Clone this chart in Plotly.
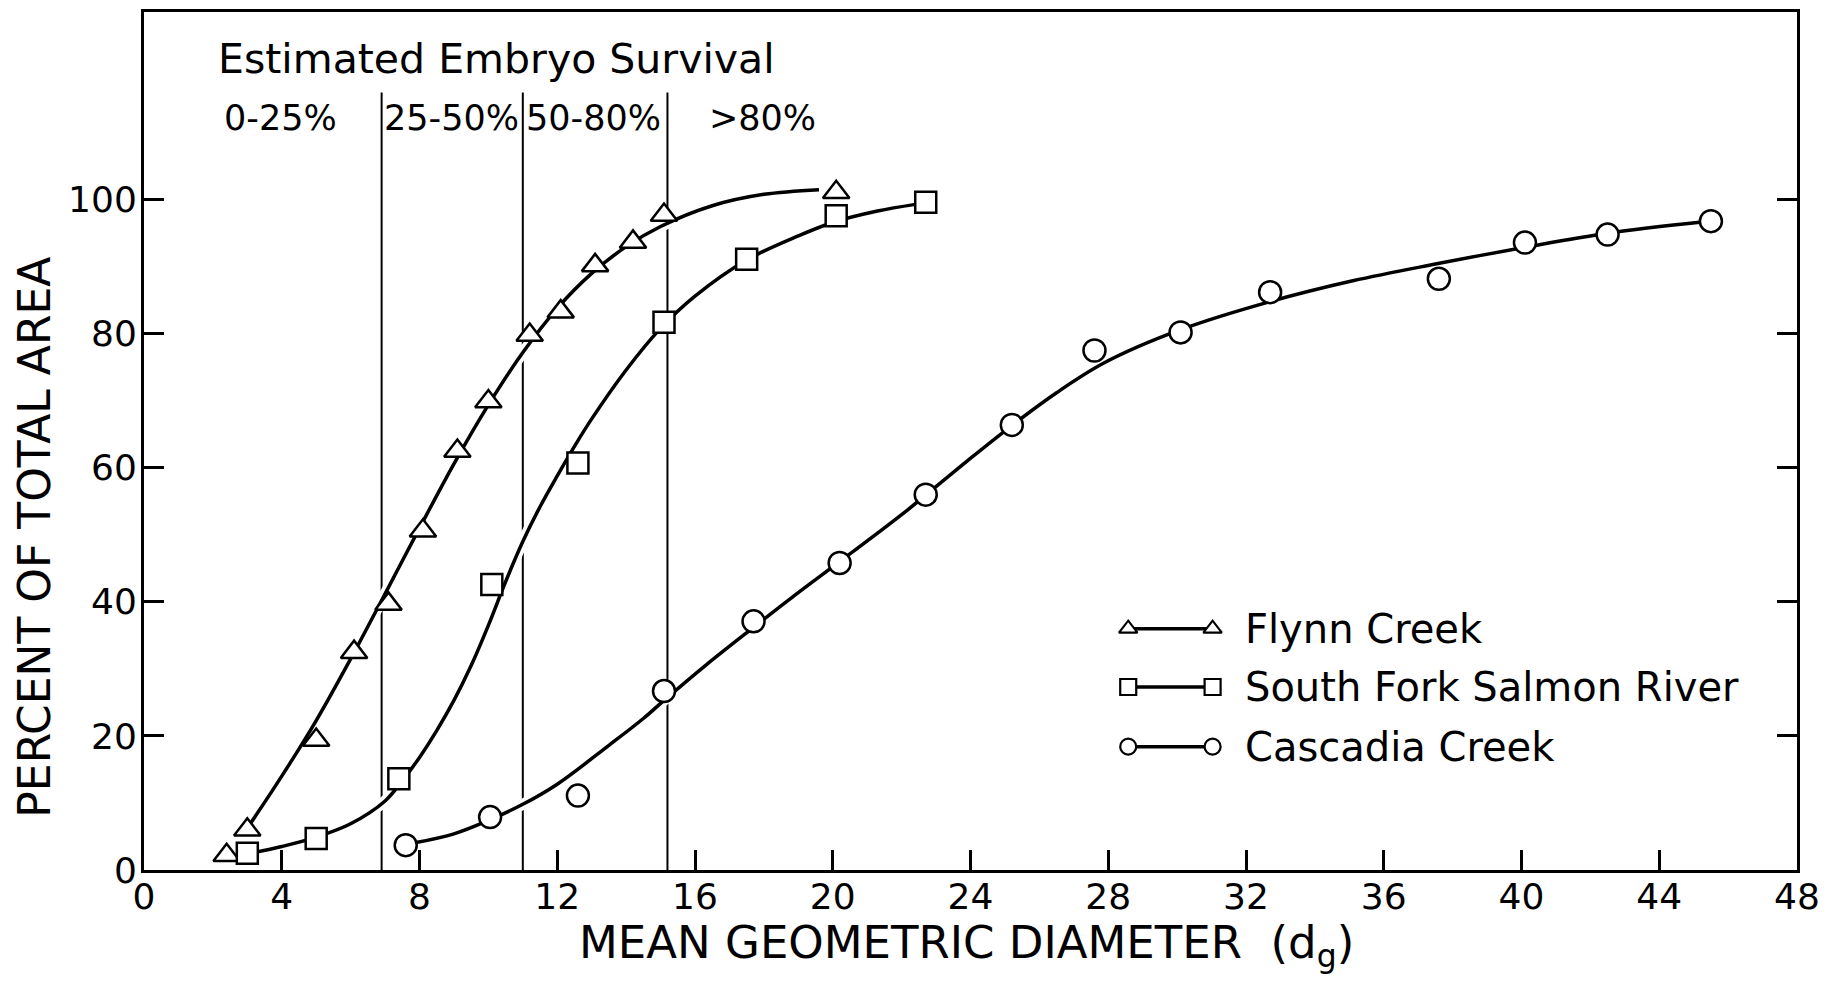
import plotly.graph_objects as go

# ---------------- data ----------------
# Measured points
flynn_x = [2.4, 3.0, 5.0, 6.1, 7.1, 8.1, 9.1, 10.0, 11.2, 12.1, 13.1, 14.2, 15.1, 20.1]
flynn_y = [2.2, 6.0, 19.4, 32.5, 39.7, 50.6, 62.5, 69.9, 79.8, 83.3, 90.2, 93.7, 97.7, 101.1]

sf_x = [3.0, 5.0, 7.4, 10.1, 12.6, 15.1, 17.5, 20.1, 22.7]
sf_y = [2.5, 4.7, 13.6, 42.6, 60.7, 81.7, 91.1, 97.6, 99.6]

cc_x = [7.6, 10.05, 12.6, 15.1, 17.7, 20.2, 22.7, 25.2, 27.6, 30.1, 32.7, 37.6, 40.1, 42.5, 45.5]
cc_y = [3.7, 7.9, 11.1, 26.7, 37.1, 45.8, 56.0, 66.4, 77.5, 80.2, 86.2, 88.2, 93.6, 94.8, 96.8]

# Hand-fitted smooth curves
flynn_curve_x = [3.1, 4.0, 5.0, 6.0, 7.0, 8.0, 9.0, 10.0, 11.0, 12.0, 13.0, 14.0, 15.0, 16.5, 18.0, 19.6]
flynn_curve_y = [7.0, 14.0, 22.3, 31.5, 41.2, 51.0, 60.6, 69.4, 77.2, 83.8, 89.0, 93.0, 96.0, 99.1, 100.8, 101.5]

sf_curve_x = [3.2, 4.0, 5.0, 6.0, 7.0, 7.5, 8.0, 8.5, 9.0, 9.5, 10.0, 10.5, 11.0, 11.5, 12.0,
              12.5, 13.0, 14.0, 15.0, 16.0, 17.5, 19.0, 20.0, 21.3, 22.4]
sf_curve_y = [2.6, 3.5, 4.9, 6.9, 10.3, 13.3, 16.8, 20.8, 25.3, 30.5, 36.5, 43.0, 49.0, 54.2, 58.8,
              63.2, 67.3, 74.6, 80.8, 85.6, 91.0, 94.6, 96.6, 98.3, 99.3]

cc_curve_x = [7.9, 9.0, 10.0, 11.0, 12.0, 13.5, 14.5, 15.1, 16.3, 17.7, 18.8, 20.2, 22.0, 23.9,
              25.2, 26.5, 27.9, 30.1, 32.7, 35.1, 37.5, 40.1, 42.5, 45.3]
cc_curve_y = [4.1, 5.4, 7.4, 9.8, 12.8, 18.6, 22.6, 25.3, 30.5, 36.2, 40.6, 46.0, 53.0, 61.0,
              66.3, 71.2, 75.7, 80.6, 84.8, 87.9, 90.4, 92.9, 95.0, 96.7]

series_names = ["Flynn Creek", "South Fork Salmon River", "Cascadia Creek"]

# Survival class boundaries and labels
survival_bounds = [6.9, 11.0, 15.2]
survival_labels = ["0-25%", "25-50%", "50-80%", ">80%"]
survival_label_x = [3.96, 8.92, 13.05, 17.95]
survival_title = "Estimated Embryo Survival"

x_ticks = list(range(0, 49, 4))
y_ticks = [0, 20, 40, 60, 80, 100]

# ---------------- styling ----------------
FONT = "DejaVu Sans"
INK = "black"
LINE_TOP = 116
LABEL_Y = 112.2
TITLE_Y = 121.0
PAGE_OFFSET = 8  # default body margin of the html page

symbols = ["triangle-up", "square", "circle"]
sizes = [23, 21, 22]
legend_sizes = [16, 16, 16]
legend_rows = [36.0, 27.3, 18.4]
legend_key_x = [28.58, 31.03]
legend_text_x = 31.92

fig = go.Figure()

curves = [(flynn_curve_x, flynn_curve_y), (sf_curve_x, sf_curve_y), (cc_curve_x, cc_curve_y)]
points = [(flynn_x, flynn_y), (sf_x, sf_y), (cc_x, cc_y)]

# white underlays to break the vertical lines where curves cross
for cx, cy in curves:
    fig.add_trace(go.Scatter(x=cx, y=cy, mode="lines", showlegend=False, hoverinfo="skip",
                             line=dict(color="white", width=11, shape="spline", smoothing=1.0)))
for cx, cy in curves:
    fig.add_trace(go.Scatter(x=cx, y=cy, mode="lines", showlegend=False, hoverinfo="skip",
                             line=dict(color=INK, width=3.5, shape="spline", smoothing=1.0)))
for (px, py), sym, sz, name in zip(points, symbols, sizes, series_names):
    fig.add_trace(go.Scatter(x=px, y=py, mode="markers", name=name, showlegend=False,
                             marker=dict(symbol=sym, size=sz, color="white",
                                         line=dict(color=INK, width=2.5))))

# manual legend keys (marker - line - marker)
for row, sym, sz, name in zip(legend_rows, symbols, legend_sizes, series_names):
    fig.add_trace(go.Scatter(x=legend_key_x, y=[row, row], mode="lines+markers", showlegend=False,
                             hoverinfo="skip",
                             line=dict(color=INK, width=3.5),
                             marker=dict(symbol=sym, size=sz, color="white",
                                         line=dict(color=INK, width=2.2))))
    fig.add_annotation(x=legend_text_x, y=row, xref="x", yref="y", text=name, showarrow=False,
                       xanchor="left", yanchor="middle", font=dict(family=FONT, size=40, color=INK))

# survival class boundaries
for b in survival_bounds:
    fig.add_shape(type="line", x0=b, x1=b, y0=0, y1=LINE_TOP, xref="x", yref="y",
                  line=dict(color=INK, width=2), layer="below")

for lx, lab in zip(survival_label_x, survival_labels):
    fig.add_annotation(x=lx, y=LABEL_Y, xref="x", yref="y", text=lab, showarrow=False,
                       xanchor="center", yanchor="middle", font=dict(family=FONT, size=35, color=INK))

fig.add_annotation(x=2.1, y=TITLE_Y, xref="x", yref="y", text=survival_title, showarrow=False,
                   xanchor="left", yanchor="middle", font=dict(family=FONT, size=41, color=INK))

# axis titles
fig.add_annotation(x=-0.0662, y=0.388, xref="paper", yref="paper", text="PERCENT OF TOTAL AREA",
                   showarrow=False, textangle=-90, xanchor="center", yanchor="middle",
                   font=dict(family=FONT, size=44, color=INK))
fig.add_annotation(x=0.4974, y=-0.0875, xref="paper", yref="paper",
                   text="MEAN GEOMETRIC DIAMETER  (d<sub>g</sub>)",
                   showarrow=False, xanchor="center", yanchor="middle",
                   font=dict(family=FONT, size=45, color=INK))

fig.update_layout(
    width=1846 - PAGE_OFFSET, height=982 - PAGE_OFFSET,
    margin=dict(l=144 - PAGE_OFFSET, r=49, t=9 - PAGE_OFFSET, b=112),
    paper_bgcolor="white", plot_bgcolor="white",
    showlegend=False,
    font=dict(family=FONT, color=INK),
)
fig.update_xaxes(range=[0, 48], tickvals=x_ticks, ticktext=[str(v) for v in x_ticks],
                 ticks="inside", ticklen=20, tickwidth=3, tickcolor=INK,
                 showline=True, linewidth=3, linecolor=INK, mirror=True,
                 showgrid=False, zeroline=False,
                 tickfont=dict(family=FONT, size=36, color=INK), ticklabelstandoff=-7)
fig.update_yaxes(range=[0, 128], tickvals=y_ticks, ticktext=[str(v) for v in y_ticks],
                 ticks="inside", ticklen=20, tickwidth=3, tickcolor=INK,
                 showline=True, linewidth=3, linecolor=INK, mirror="ticks",
                 showgrid=False, zeroline=False,
                 tickfont=dict(family=FONT, size=36, color=INK), ticklabelstandoff=-3)

fig.write_html("out.html")
